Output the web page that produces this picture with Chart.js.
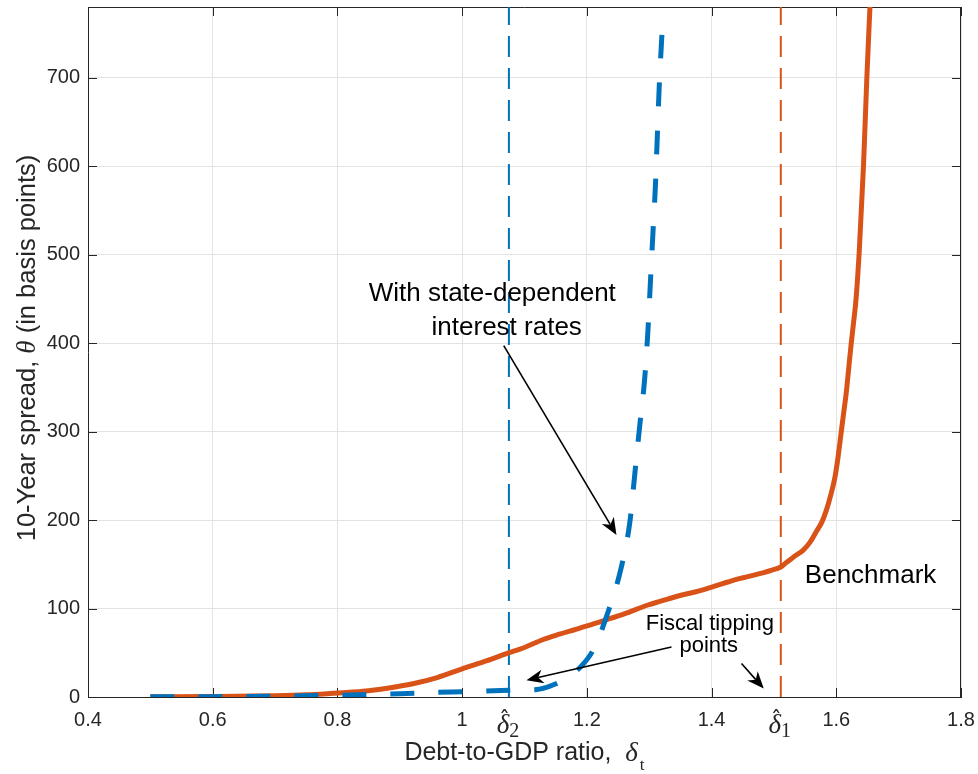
<!DOCTYPE html>
<html><head><meta charset="utf-8">
<script src="https://cdn.jsdelivr.net/npm/chart.js@4/dist/chart.umd.min.js"></script>
<style>html,body{margin:0;padding:0;background:#fff}#wrap{width:978px;height:774px}</style>
</head><body><div id="wrap"><canvas id="c" width="978" height="774"></canvas></div>
<script>
// ---- data ----
const benchX = [0.5,0.6,0.7,0.75,0.788,0.841,0.88,0.921,0.96,1.001,1.04,1.071,1.1,1.13,1.156,1.18,1.199,1.23,1.26,1.298,1.317,1.351,1.375,1.399,1.426,1.44,1.458,1.48,1.495,1.511,1.52,1.531,1.547,1.558,1.568,1.577,1.584,1.591,1.598,1.603,1.608,1.612,1.616,1.62,1.624,1.628,1.6316,1.637,1.6436,1.649,1.654];
const benchY = [0.2,0.6,1.5,2.5,4,6.5,10,15,22,32,41,49,56,65,71,76,80,87,94,104,108,115,119,124,130,133,136,140,143,147,152,158,166,175,187,198,211,228,249,272,300,322,344,372,400,425,449,506,600,700,780];
const stateX = [0.5,0.6,0.7,0.8,0.85,0.9,0.95,1.0,1.05,1.075,1.1,1.12,1.14,1.157,1.175,1.19,1.21,1.232,1.255,1.269,1.277,1.285,1.293,1.298,1.302,1.306,1.31,1.313,1.316,1.321];
const stateY = [0.2,0.4,1,2,2.8,3.8,5,6,7,7.5,8,8.5,12,17,25,34,53,92,146,198,253,308,362,415,470,525,579,634,689,757];
const tippingPoints = [1.075, 1.511];      // delta-hat-2, delta-hat-1
const tippingSubs = ['2', '1'];
const xTicks = [0.4,0.6,0.8,1.0,1.2,1.4,1.6,1.8];
const yTicks = [0,100,200,300,400,500,600,700];

// ---- styles / layout ----
const SANS = '"Liberation Sans", Arial, Helvetica, sans-serif';
const SERIF = '"Liberation Serif", "DejaVu Serif", "Times New Roman", serif';
const ORANGE = '#D95319', BLUE = '#0072BD', AXIS = '#262626';

const notes = [
  {text:'With state-dependent', x:1.0483, y:447.3, size:26},
  {text:'interest rates', x:1.0715, y:409.2, size:26},
  {text:'Fiscal tipping', x:1.3973, y:75.5, size:22},
  {text:'points', x:1.3955, y:50.8, size:22},
  {text:'Benchmark', x:1.655, y:129.1, size:26}
];
const arrows = [
  {from:[1.0667,397.2], to:[1.2475,183.1]},
  {from:[1.3357,56.6], to:[1.1031,18.9]},
  {from:[1.448,37.8], to:[1.4837,9.5]}
];

const pts = (xs, ys) => xs.map((v,i)=>({x:v, y:ys[i]}));

function drawArrow(ctx, x0, y0, x1, y1){
  const dx = x1-x0, dy = y1-y0, L = Math.hypot(dx,dy);
  const ux = dx/L, uy = dy/L, nx = -uy, ny = ux;
  const hl = 17, hw = 14, notch = 5;
  const bx = x1 - ux*hl, by = y1 - uy*hl;
  const mx = x1 - ux*(hl-notch), my = y1 - uy*(hl-notch);
  ctx.beginPath(); ctx.moveTo(x0,y0); ctx.lineTo(mx,my);
  ctx.lineWidth = 1.6; ctx.strokeStyle = '#000'; ctx.stroke();
  ctx.beginPath(); ctx.moveTo(x1,y1);
  ctx.lineTo(bx + nx*hw/2, by + ny*hw/2);
  ctx.lineTo(mx,my);
  ctx.lineTo(bx - nx*hw/2, by - ny*hw/2);
  ctx.closePath(); ctx.fillStyle = '#000'; ctx.fill();
}

const decor = {
  id:'decor',
  beforeDatasetsDraw(chart){
    const {ctx, chartArea:a, scales:{x,y}} = chart;
    ctx.save();
    ctx.strokeStyle = AXIS; ctx.lineWidth = 1;
    ctx.beginPath();
    ctx.moveTo(a.left, Math.round(a.top)+0.5); ctx.lineTo(a.right, Math.round(a.top)+0.5);
    ctx.moveTo(Math.round(a.right)-0.5, a.top); ctx.lineTo(Math.round(a.right)-0.5, a.bottom);
    xTicks.forEach(v=>{const p=Math.round(x.getPixelForValue(v))+0.5;
      ctx.moveTo(p,a.bottom); ctx.lineTo(p,a.bottom-9); ctx.moveTo(p,a.top); ctx.lineTo(p,a.top+9);});
    yTicks.forEach(v=>{const p=Math.round(y.getPixelForValue(v))+0.5;
      ctx.moveTo(a.left,p); ctx.lineTo(a.left+9,p); ctx.moveTo(a.right,p); ctx.lineTo(a.right-9,p);});
    ctx.stroke();
    ctx.restore();
  },
  afterDraw(chart){
    const {ctx, chartArea:a, scales:{x,y}} = chart;
    ctx.save();
    // annotations
    ctx.fillStyle = '#000'; ctx.textAlign = 'center'; ctx.textBaseline = 'alphabetic';
    notes.forEach(n=>{ ctx.font = n.size+'px '+SANS; ctx.fillText(n.text, x.getPixelForValue(n.x), y.getPixelForValue(n.y)); });
    arrows.forEach(r=>drawArrow(ctx, x.getPixelForValue(r.from[0]), y.getPixelForValue(r.from[1]),
                                     x.getPixelForValue(r.to[0]), y.getPixelForValue(r.to[1])));
    // tipping point tick labels
    ctx.fillStyle = AXIS;
    tippingPoints.forEach((v,i)=>{
      const px = x.getPixelForValue(v);
      ctx.font = 'italic 27px '+SERIF;
      const wd = ctx.measureText('δ').width;
      ctx.font = '20px '+SERIF;
      const ws = ctx.measureText(tippingSubs[i]).width;
      const left = px - (wd+ws)/2 - 1;
      ctx.textAlign = 'left';
      ctx.font = 'italic 27px '+SERIF;
      ctx.fillText('δ', left, 733);
      // hat accent
      ctx.font = '22px "DejaVu Sans"';
      ctx.textAlign = 'center';
      ctx.fillText('\u02C6', left + wd/2 + 1.5, 726);
      ctx.textAlign = 'left';
      ctx.font = '20px '+SERIF;
      ctx.fillText(tippingSubs[i], left + wd, 737);
    });
    // x title
    const xt1 = 'Debt-to-GDP ratio,  ';
    ctx.font = '25px '+SANS; const w1 = ctx.measureText(xt1).width;
    ctx.font = 'italic 27px '+SERIF; const w2 = ctx.measureText('δ').width;
    ctx.font = '17px '+SERIF; const w3 = ctx.measureText('t').width;
    let sx = (a.left+a.right)/2 - (w1+w2+w3+2)/2;
    ctx.textAlign = 'left';
    ctx.font = '25px '+SANS; ctx.fillText(xt1, sx, 760); sx += w1;
    ctx.font = 'italic 27px '+SERIF; ctx.fillText('δ', sx, 761); sx += w2 + 2;
    ctx.font = '17px '+SERIF; ctx.fillText('t', sx, 770);
    // y title
    const segs = [['10-Year spread, ', '25.5px '+SANS], ['θ', 'italic 27px '+SERIF], [' (in basis points)', '25.5px '+SANS]];
    let tw = 0; segs.forEach(s=>{ctx.font=s[1]; s.w=ctx.measureText(s[0]).width; tw+=s.w;});
    ctx.translate(35, 348);
    ctx.rotate(-Math.PI/2);
    let cx = -tw/2;
    segs.forEach(s=>{ctx.font=s[1]; ctx.fillText(s[0], cx, 0); cx+=s.w;});
    ctx.restore();
  }
};

const datasets = [
  {label:'With state-dependent interest rates', data:pts(stateX, stateY), borderColor:BLUE, borderWidth:5,
   borderDash:[24,24], borderCapStyle:'butt', pointRadius:0, cubicInterpolationMode:'monotone', order:1},
  {label:'Benchmark', data:pts(benchX, benchY), borderColor:ORANGE, borderWidth:5,
   pointRadius:0, cubicInterpolationMode:'monotone', order:2},
  ...tippingPoints.map((v,i)=>({label:'tip'+i, data:[{x:v,y:0},{x:v,y:780}], borderColor:i===0?BLUE:ORANGE,
   borderWidth:2, borderDash:[21,11], pointRadius:0, order:3}))
];

new Chart(document.getElementById('c'), {
  type:'line',
  data:{datasets},
  options:{
    responsive:false, animation:false, devicePixelRatio:1,
    layout:{padding:{top:7, right:17, left:0, bottom:0}},
    plugins:{legend:{display:false}, tooltip:{enabled:false}},
    scales:{
      x:{type:'linear', min:0.4, max:1.8,
        afterBuildTicks:s=>{s.ticks = xTicks.map(v=>({value:v}));},
        afterFit:s=>{s.height = 77; s.paddingLeft=0; s.paddingRight=0;},
        ticks:{callback:v=>String(+(+v).toFixed(1)), font:{family:SANS, size:20}, color:AXIS, padding:11, maxRotation:0, autoSkip:false},
        grid:{color:'#e3e3e3', lineWidth:1, drawTicks:false},
        border:{display:true, color:AXIS, width:1}},
      y:{type:'linear', min:0, max:780,
        afterBuildTicks:s=>{s.ticks = yTicks.map(v=>({value:v}));},
        afterFit:s=>{s.width = 88; s.paddingTop=0; s.paddingBottom=0;},
        ticks:{font:{family:SANS, size:20}, color:AXIS, padding:8, autoSkip:false},
        grid:{color:'#e3e3e3', lineWidth:1, drawTicks:false},
        border:{display:true, color:AXIS, width:1}}
    }
  },
  plugins:[decor]
});
</script></body></html>
